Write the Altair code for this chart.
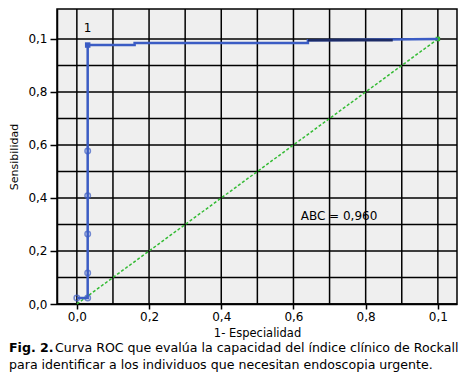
import altair as alt
import pandas as pd

# ---- data ----
roc_x = [0.0, 0.03, 0.03, 0.03, 0.03, 0.03, 0.03, 0.16, 0.16, 0.64, 0.64, 1.0]
roc_y = [0.023, 0.023, 0.117, 0.264, 0.408, 0.577, 0.977, 0.977, 0.985, 0.985, 0.995, 1.0]
marker_x = [0.0, 0.03, 0.03, 0.03, 0.03, 0.03]
marker_y = [0.023, 0.023, 0.117, 0.264, 0.408, 0.577]
top_x = [0.03]
top_y = [0.977]
top_label = ["1"]
dark_x = [0.64, 0.875]
dark_y = [0.995, 0.995]
diag_x = [0.0, 1.0]
diag_y = [0.0, 1.0]
tick_values = [0.0, 0.2, 0.4, 0.6, 0.8, 1.0]
tick_labels = ["0,0", "0,2", "0,4", "0,6", "0,8", "0,1"]
grid_values = [0.0, 0.1, 0.2, 0.3, 0.4, 0.5, 0.6, 0.7, 0.8, 0.9, 1.0]
abc_text = ["ABC = 0,960"]
abc_x = [0.62]
abc_y = [0.332]
caption_bold = "Fig. 2."
caption_line1 = "Curva ROC que evalúa la capacidad del índice clínico de Rockall"
caption_line2 = "para identificar a los individuos que necesitan endoscopia urgente."

BLUE = "#3b5cc4"
GREEN = "#33bb33"
FONT = "DejaVu Sans"

label_expr = "[" + ",".join(f"'{l}'" for l in tick_labels) + "][round(datum.value*5)]"

xs = alt.Scale(domain=[-0.055, 1.053], nice=False, zero=False)
ys = alt.Scale(domain=[0, 1.113], nice=False, zero=False)

grid_df = pd.DataFrame({"g": grid_values})
roc_df = pd.DataFrame({"x": roc_x, "y": roc_y, "i": list(range(len(roc_x)))})
mk_df = pd.DataFrame({"x": marker_x, "y": marker_y})
top_df = pd.DataFrame({"x": top_x, "y": top_y, "t": top_label})
dark_df = pd.DataFrame({"x": dark_x, "y": dark_y})
diag_df = pd.DataFrame({"x": diag_x, "y": diag_y})
abc_df = pd.DataFrame({"x": abc_x, "y": abc_y, "t": abc_text})
cap_df = pd.DataFrame({"b": [caption_bold], "l1": [caption_line1], "l2": [caption_line2]})

xaxis = alt.Axis(values=tick_values, labelExpr=label_expr, grid=False, title="1- Especialidad",
                 tickSize=5, labelPadding=2, tickColor="black", domainColor="black",
                 tickWidth=1.5, domainWidth=1.5,
                 labelFont=FONT, labelFontSize=12, labelColor="black", titleFont=FONT,
                 titleFontSize=11.5, titleFontWeight="normal", titleColor="black", titlePadding=5)
yaxis = alt.Axis(values=tick_values, labelExpr=label_expr, grid=False, title="Sensibilidad",
                 tickSize=7, labelPadding=3, tickColor="black", domainColor="black",
                 tickWidth=1.5, domainWidth=1.5,
                 labelFont=FONT, labelFontSize=12, labelColor="black", titleFont=FONT,
                 titleFontSize=11, titleFontWeight="normal", titleColor="black", titlePadding=8)


def X(f):
    return alt.X(f, scale=xs, axis=xaxis)


def Y(f):
    return alt.Y(f, scale=ys, axis=yaxis)


vgrid = alt.Chart(grid_df).mark_rule(color="black", strokeWidth=1.5).encode(x=X("g:Q"))
hgrid = alt.Chart(grid_df).mark_rule(color="black", strokeWidth=1.5).encode(y=Y("g:Q"))

diag = alt.Chart(diag_df).mark_line(color=GREEN, strokeWidth=1.5, strokeDash=[3, 2]).encode(
    x=X("x:Q"), y=Y("y:Q"))
diag_end = alt.Chart(diag_df[diag_df.x == 1.0]).mark_square(color=GREEN, size=20, opacity=1).encode(
    x=X("x:Q"), y=Y("y:Q"))

roc = alt.Chart(roc_df).mark_line(color=BLUE, strokeWidth=2.5).encode(
    x=X("x:Q"), y=Y("y:Q"), order="i:Q")
dark = alt.Chart(dark_df).mark_line(color="#1c2b66", strokeWidth=2.5).encode(
    x=X("x:Q"), y=Y("y:Q"))
markers = alt.Chart(mk_df).mark_point(shape="circle", color=BLUE, filled=False, size=30,
                                      strokeWidth=1.5).encode(x=X("x:Q"), y=Y("y:Q"))
topm = alt.Chart(top_df).mark_square(color=BLUE, size=30, opacity=1).encode(
    x=X("x:Q"), y=Y("y:Q"))
toplbl = alt.Chart(top_df).mark_text(font=FONT, fontSize=12, color="black", dy=-17).encode(
    x=X("x:Q"), y=Y("y:Q"), text="t:N")
abc = alt.Chart(abc_df).mark_text(font=FONT, fontSize=12, color="black", align="left",
                                  baseline="middle").encode(
    x=X("x:Q"), y=Y("y:Q"), text="t:N")

CAP = 12.6
cap_b = alt.Chart(cap_df).mark_text(font=FONT, fontSize=CAP, fontWeight="bold", color="black",
                                    align="left", baseline="middle").encode(
    x=alt.value(-48), y=alt.value(339), text="b:N")
cap_1 = alt.Chart(cap_df).mark_text(font=FONT, fontSize=CAP, color="black",
                                    align="left", baseline="middle").encode(
    x=alt.value(-2), y=alt.value(339), text="l1:N")
cap_2 = alt.Chart(cap_df).mark_text(font=FONT, fontSize=CAP, color="black",
                                    align="left", baseline="middle").encode(
    x=alt.value(-48), y=alt.value(356), text="l2:N")

chart = alt.layer(vgrid, hgrid, diag, diag_end, roc, dark, markers, topm, toplbl, abc,
                  cap_b, cap_1, cap_2).properties(
    width=400, height=295, background="white", padding=0
).configure_view(stroke="black", strokeWidth=1.5, fill="#efefef")

chart.save("out.html", embed_options={"renderer": "svg", "actions": False})
